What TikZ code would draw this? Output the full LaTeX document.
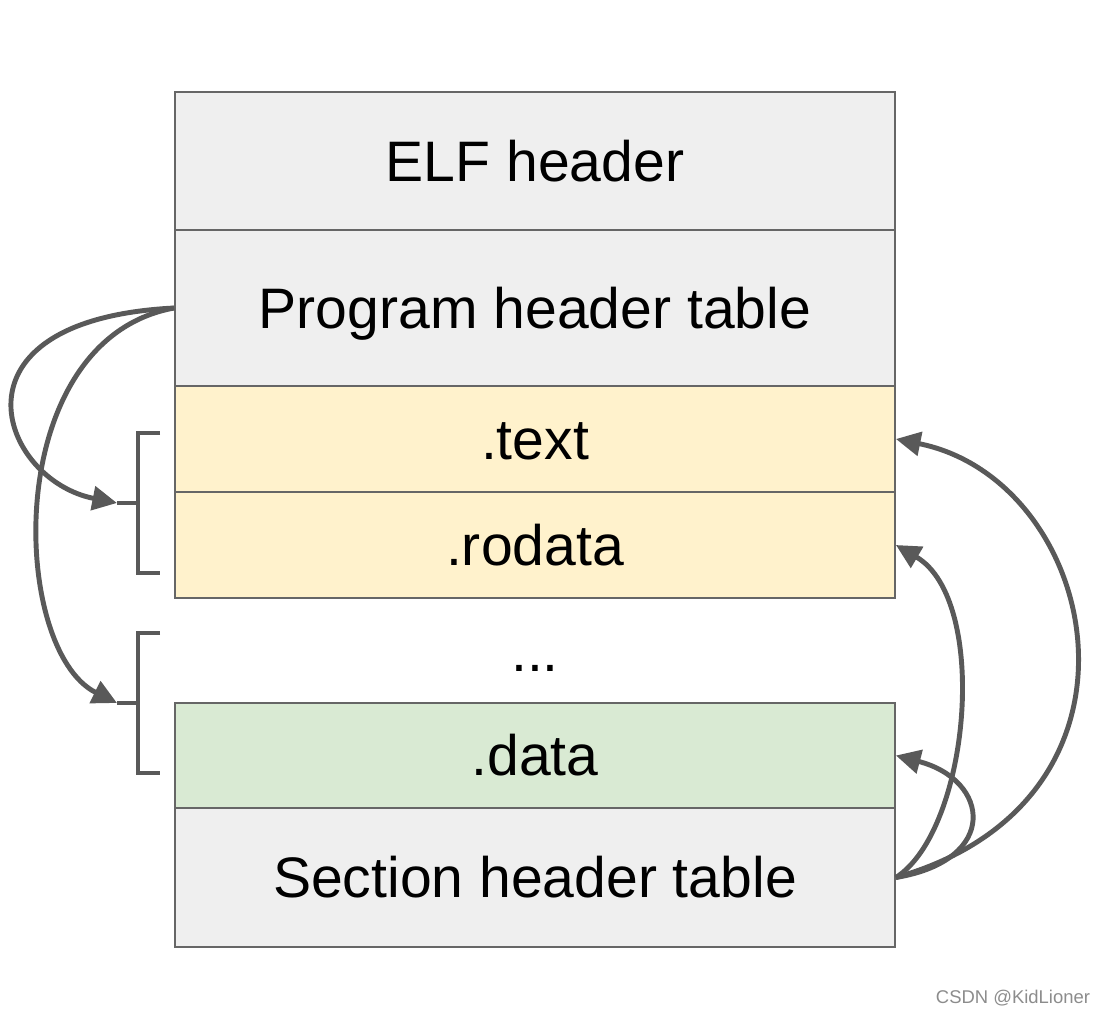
\documentclass[tikz,border=0pt]{standalone}
\usepackage{fontspec}
\setmainfont{Liberation Sans}
\usetikzlibrary{arrows.meta}
\usepackage{xcolor}

\definecolor{cellgray}{HTML}{EFEFEF}
\definecolor{cellyellow}{HTML}{FFF2CC}
\definecolor{cellgreen}{HTML}{D9EAD3}
\definecolor{edgegray}{HTML}{666666}
\definecolor{arrowgray}{HTML}{595959}

\begin{document}
\begin{tikzpicture}[x=0.02cm, y=-0.02cm,
  cell/.style={draw=edgegray, line width=1.1pt, minimum width=14.4cm, inner sep=0pt,
    text height=23.3pt, text depth=0pt, font=\fontsize{32.5}{38}\selectfont},
  conn/.style={draw=arrowgray, line width=2.8pt, -{Triangle[length=14pt,width=13.5pt]}},
  brace/.style={draw=arrowgray, line width=2.8pt}]

\useasboundingbox (0,0) rectangle (1108,1016);

% ELF file layout, one cell per part
\node[cell, fill=cellgray,   minimum height=2.76cm] (elf)    at (535,161)   {ELF header};
\node[cell, fill=cellgray,   minimum height=3.12cm] (pht)    at (535,308)   {Program header table};
\node[cell, fill=cellyellow, minimum height=2.12cm] (text)   at (535,439)   {.text};
\node[cell, fill=cellyellow, minimum height=2.12cm] (rodata) at (535,545)   {.rodata};
\node[font=\fontsize{32.5}{38}\selectfont, anchor=base] (dots) at (535,671) {...};
\node[cell, fill=cellgreen,  minimum height=2.1cm]  (data)   at (535,755.5) {.data};
\node[cell, fill=cellgray,   minimum height=2.78cm] (sht)    at (535,877.5) {Section header table};

% segments: brackets on the left
\draw[brace] (160,433) -- (138,433) -- (138,573) -- (160,573);
\draw[brace] (160,633) -- (138,633) -- (138,773) -- (160,773);
\coordinate (seg1) at (117,503);
\coordinate (seg2) at (117,703);
\draw[brace] (138,503) -- (seg1);
\draw[brace] (138,703) -- (seg2);

% program header table points to segments
\draw[conn] (pht.west) .. controls (-60,320) and (0,480) .. (seg1);
\draw[conn] (pht.west) .. controls (0,340) and (10,650) .. (seg2);

% section header table points to sections
\draw[conn] (sht.east) .. controls (1170,800) and (1100,480) .. (text.east);
\draw[conn] (sht.east) .. controls (970,830) and (990,600) .. (rodata.east);
\draw[conn] (sht.east) .. controls (1000,860) and (990,780) .. (data.east);

% watermark
\node[text=black!45, font=\fontsize{10.5}{12}\selectfont] (mark) at (1013,998) {CSDN @KidLioner};

\end{tikzpicture}
\end{document}
